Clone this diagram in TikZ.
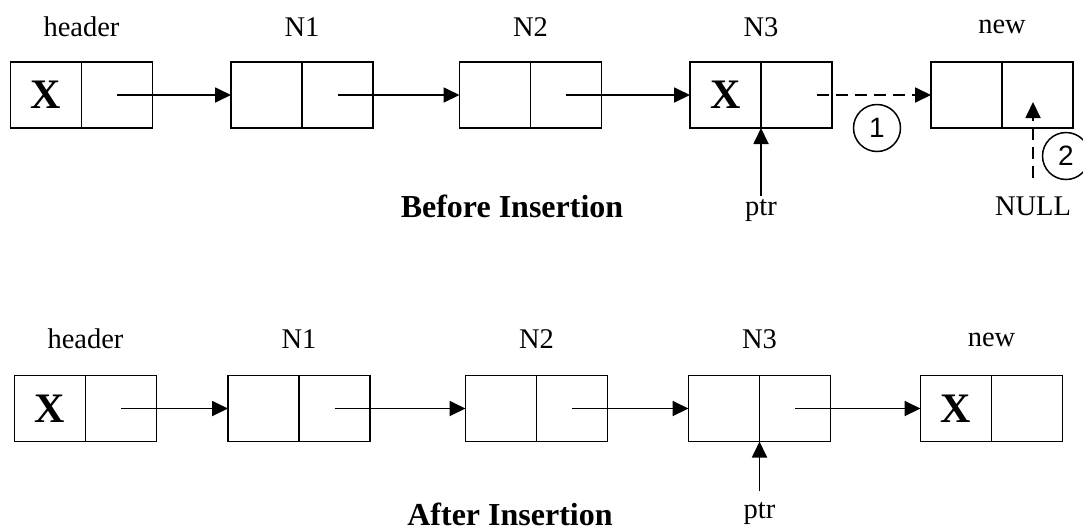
\documentclass[tikz,border=0pt]{standalone}
\usepackage{fontspec}
\setmainfont{Liberation Serif}
\newfontfamily\numfont{Liberation Sans}
\usetikzlibrary{positioning,arrows.meta}

\begin{document}
\begin{tikzpicture}[
  x=1pt, y=-1pt,
  cell/.style={draw, line width=1.8pt, minimum width=71pt, minimum height=66pt, inner sep=0pt, outer sep=0pt, font=\fontsize{42}{44}\selectfont\bfseries},
  lbl/.style={anchor=base, inner sep=3pt, font=\fontsize{28.5}{30}\selectfont},
  caption/.style={anchor=base, inner sep=0pt, font=\fontsize{32}{34}\selectfont\bfseries},
  num/.style={draw, circle, line width=1.5pt, minimum size=47pt, inner sep=0pt, font=\numfont\fontsize{28}{30}\selectfont},
  arrow/.style={-{Triangle[length=16pt,width=15pt]}, line width=1.8pt},
  darrow/.style={arrow, dash pattern=on 12pt off 7pt}
]
\useasboundingbox (0,0) rectangle (1083,531);

% before insertion
\node[cell] (tH) at (46,95) {X};
\node[cell, right=0pt of tH] (tHp) {};
\node[cell] (t1) at (266.5,95) {};
\node[cell, right=0pt of t1] (t1p) {};
\node[cell] (t2) at (495,95) {};
\node[cell, right=0pt of t2] (t2p) {};
\node[cell] (t3) at (725.5,95) {X};
\node[cell, right=0pt of t3] (t3p) {};
\node[cell] (tN) at (966.5,95) {};
\node[cell, right=0pt of tN] (tNp) {};

\node[lbl] (tHlbl) at ([yshift=26pt]tH.north east) {header};
\node[lbl] (t1lbl) at ([yshift=26pt]t1.north east) {N1};
\node[lbl] (t2lbl) at ([yshift=26pt]t2.north east) {N2};
\node[lbl] (t3lbl) at ([yshift=26pt]t3.north east) {N3};
\node[lbl] (tNlbl) at ([yshift=29pt]tN.north east) {new};

\node[lbl] (tptr) at ([yshift=-87pt]t3.south east) {ptr};
\node[lbl] (tnull) at (1033,215) {NULL};
\node[caption] (before) at (512,217) {Before Insertion};
\node[num] (one) at (877,128) {1};
\node[num] (two) at (1066,156) {2};

\draw[arrow] (tHp.center) -- (t1.west);
\draw[arrow] (t1p.center) -- (t2.west);
\draw[arrow] (t2p.center) -- (t3.west);
\draw[darrow] ([xshift=20pt]t3p.center) -- (tN.west);
\draw[arrow] (tptr.north) -- (t3.south east);
\draw[darrow] ([yshift=15pt]tnull.north) -- ([yshift=-7pt]tnull.north |- tNp.center);

% after insertion
\node[cell] (bH) at (50,408.5) {X};
\node[cell, right=0pt of bH] (bHp) {};
\node[cell] (b1) at (263.5,408.5) {};
\node[cell, right=0pt of b1] (b1p) {};
\node[cell] (b2) at (501,408.5) {};
\node[cell, right=0pt of b2] (b2p) {};
\node[cell] (b3) at (724,408.5) {};
\node[cell, right=0pt of b3] (b3p) {};
\node[cell] (bN) at (956,408.5) {X};
\node[cell, right=0pt of bN] (bNp) {};

\node[lbl] (bHlbl) at ([yshift=27pt]bH.north east) {header};
\node[lbl] (b1lbl) at ([yshift=27pt]b1.north east) {N1};
\node[lbl] (b2lbl) at ([yshift=27pt]b2.north east) {N2};
\node[lbl] (b3lbl) at ([yshift=27pt]b3.north east) {N3};
\node[lbl] (bNlbl) at ([yshift=29pt]bN.north east) {new};

\node[lbl] (bptr) at ([yshift=-77pt]b3.south east) {ptr};
\node[caption] (after) at (510,525) {After Insertion};

\draw[arrow] (bHp.center) -- (b1.west);
\draw[arrow] (b1p.center) -- (b2.west);
\draw[arrow] (b2p.center) -- (b3.west);
\draw[arrow] (b3p.center) -- (bN.west);
\draw[arrow] ([yshift=8pt]bptr.north) -- (b3.south east);

\end{tikzpicture}
\end{document}
